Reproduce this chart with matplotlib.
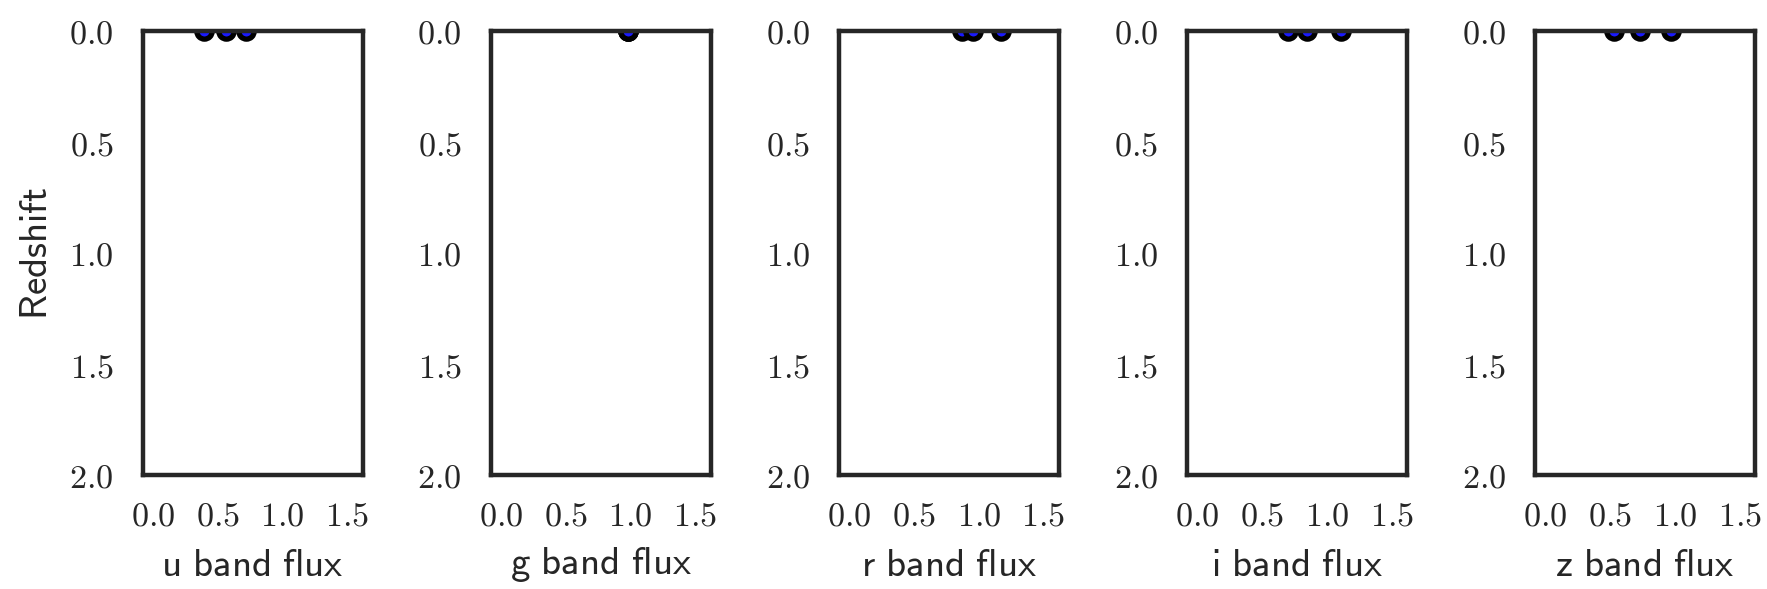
import matplotlib
matplotlib.use("Agg")
import matplotlib.pyplot as plt
from matplotlib.ticker import FuncFormatter

plt.rcParams['mathtext.fontset'] = 'cm'

bands = ["u", "g", "r", "i", "z"]
flux_u = [0.39, 0.56, 0.72]
flux_g = [0.98, 0.98, 0.98]
flux_r = [0.87, 0.96, 1.17]
flux_i = [0.70, 0.85, 1.11]
flux_z = [0.53, 0.73, 0.97]
redshift = [0.0, 0.0, 0.0]
fluxes = [flux_u, flux_g, flux_r, flux_i, flux_z]
xticks = [0.0, 0.5, 1.0, 1.5]
yticks = [0.0, 0.5, 1.0, 1.5, 2.0]

fig = plt.figure(figsize=(17.67, 5.89), dpi=100)
W, H = 1767, 589
left0 = 142.7
step = 348.1
axw = 220.0
top = 31
bottom = 475

fmt = FuncFormatter(lambda v, p: r"$%.1f$" % v)
spine_col = "#262626"

for k, (b, fx) in enumerate(zip(bands, fluxes)):
    l = left0 + k * step
    ax = fig.add_axes([l / W, 1 - bottom / H, axw / W, (bottom - top) / H])
    ax.plot(fx, redshift, linestyle="none", marker="o", markersize=11,
            markerfacecolor="#1a1aff", markeredgecolor="black", markeredgewidth=3.8)
    ax.set_xlim(-0.08, 1.62)
    ax.set_ylim(2.0, 0.0)
    ax.set_xticks(xticks)
    ax.set_yticks(yticks)
    ax.xaxis.set_major_formatter(fmt)
    ax.yaxis.set_major_formatter(fmt)
    ax.tick_params(axis="both", length=0, labelsize=24.5, colors="#262626")
    ax.tick_params(axis="y", pad=21)
    ax.tick_params(axis="x", pad=18)
    for s in ax.spines.values():
        s.set_linewidth(3.2)
        s.set_color(spine_col)
    ax.set_xlabel(r"$\mathsf{%s\ band\ flux}$" % b, fontsize=28, color="#262626", labelpad=9)
    if k == 0:
        ax.set_ylabel(r"$\mathsf{Redshift}$", fontsize=28, color="#262626", labelpad=10)

fig.savefig("out.png", dpi=100, facecolor="white")
